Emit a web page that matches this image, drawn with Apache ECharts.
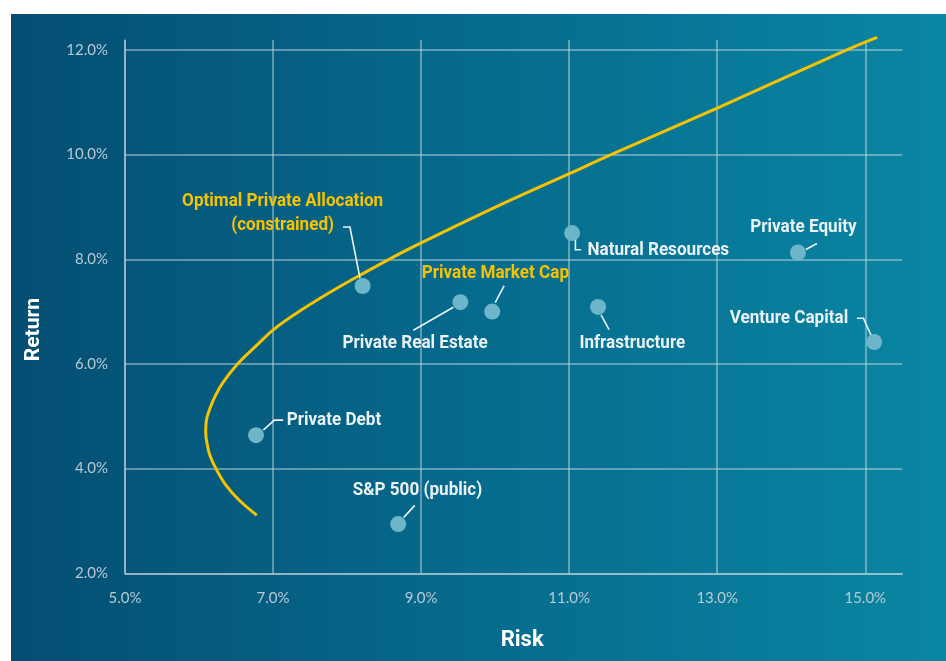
<!DOCTYPE html>
<html>
<head>
<meta charset="utf-8">
<script src="https://cdn.jsdelivr.net/npm/echarts@6/dist/echarts.min.js"></script>
<style>
  html, body { margin: 0; padding: 0; background: #ffffff; }
  #chart { width: 946px; height: 661px; }
</style>
</head>
<body>
<div id="chart"></div>
<script>
// ---- Data ----
const assetNames = [
  'Optimal Private Allocation\n(constrained)',
  'Private Market Cap',
  'Private Real Estate',
  'Natural Resources',
  'Infrastructure',
  'Private Equity',
  'Venture Capital',
  'Private Debt',
  'S&P 500 (public)'
];
const assetRisk   = [8.21, 9.96, 9.53, 11.04, 11.39, 14.09, 15.12, 6.77, 8.69];
const assetReturn = [7.49, 7.00, 7.18,  8.50,  7.09,  8.13,  6.42, 4.64, 2.94];

// Efficient frontier (risk, return), from the lower end to the upper end
const frontierRisk   = [6.78, 6.54, 6.36, 6.24, 6.15, 6.11, 6.09, 6.10, 6.15, 6.22, 6.32, 6.52, 6.76, 7.01, 7.36, 7.77, 8.18, 8.81, 9.39, 10.07, 11.01, 11.55, 13.00, 14.75, 15.16];
const frontierReturn = [3.11, 3.40, 3.69, 3.97, 4.24, 4.47, 4.70, 4.93, 5.16, 5.39, 5.64, 6.00, 6.33, 6.66, 7.01, 7.37, 7.70, 8.18, 8.58,  9.04,  9.64,  9.99, 10.89, 12.00, 12.24];

const xAxisTitle = 'Risk';
const yAxisTitle = 'Return';

// ---- Styling / annotation layout (pixel offsets from each point) ----
const WHITE = '#eaf2f5';
const YELLOW = '#f6c300';
const TEXT_SHIFT_Y = 1.5;
const annot = [
  { dx: -80,  dy: -74, align: 'center', color: YELLOW, leader: [[-19.7,-59],[-12.7,-59],[-2.7,-8]] },
  { dx: 3.2,  dy: -40, align: 'center', color: YELLOW, leader: [[12,-26],[3,-9]] },
  { dx: -45.3,dy: 39.4,align: 'center', color: WHITE,  leader: [[-47,28],[-7,5]] },
  { dx: 15.3, dy: 15.5,align: 'left',   color: WHITE,  leader: [[9,16.7],[3.3,16.7],[3.3,6.7]] },
  { dx: 34.3, dy: 34.5,align: 'center', color: WHITE,  leader: [[11,22.6],[3,8]] },
  { dx: 5.5,  dy: -26.5,align:'center', color: WHITE,  leader: [[19,-9],[8,-3]] },
  { dx: -26,  dy: -25, align: 'right',  color: WHITE,  leader: [[-17.3,-23.7],[-10.7,-23.7],[-3.3,-7]] },
  { dx: 30.7, dy: -16.5,align:'left',   color: WHITE,  leader: [[27.3,-15],[18.3,-15],[7.3,-5]] },
  { dx: 19.3, dy: -35.5,align:'center', color: WHITE,  leader: [[16.6,-18.7],[5.6,-6.7]] }
];

const LABEL_FONT = 'Roboto, "Liberation Sans", sans-serif';
const LABEL_SCALE_X = 0.9;
const TICK_FONT = 'Lato, "Open Sans", sans-serif';
const GRID_COLOR = 'rgba(205,218,225,0.62)';

const pointData = assetRisk.map((r, i) => [r, assetReturn[i], i]);
const frontierData = frontierRisk.map((r, i) => [r, frontierReturn[i]]);

const chart = echarts.init(document.getElementById('chart'), null, { renderer: 'canvas' });

const option = {
  backgroundColor: '#ffffff',
  animation: false,
  graphic: [{
    type: 'rect',
    z: -10,
    silent: true,
    shape: { x: 11, y: 14, width: 935, height: 647 },
    style: {
      fill: new echarts.graphic.LinearGradient(0, 0, 1, 0, [
        { offset: 0, color: '#044e72' },
        { offset: 0.5, color: '#066b8d' },
        { offset: 1, color: '#0a86a3' }
      ])
    }
  }],
  grid: { left: 125, right: 43.7, top: 40, bottom: 87.7, containLabel: false },
  xAxis: {
    type: 'value',
    min: 5, max: 15.5, interval: 2,
    name: xAxisTitle,
    nameLocation: 'middle',
    nameGap: 56,
    nameTextStyle: { color: '#ffffff', fontFamily: LABEL_FONT, fontWeight: 'bold', fontSize: 22, padding: [0, 0, 0, 17] },
    axisLine: { show: true, lineStyle: { color: GRID_COLOR, width: 1.5 } },
    axisTick: { show: false },
    axisLabel: {
      color: '#b9cad3', fontFamily: TICK_FONT, fontSize: 15, margin: 17,
      showMaxLabel: false,
      formatter: v => v.toFixed(1) + '%'
    },
    splitLine: { show: true, showMaxLine: false, lineStyle: { color: GRID_COLOR, width: 1.5 } }
  },
  yAxis: {
    type: 'value',
    min: 2, max: 12.19, interval: 2,
    name: yAxisTitle,
    nameLocation: 'middle',
    nameGap: 81,
    nameRotate: 90,
    nameTextStyle: { color: '#ffffff', fontFamily: LABEL_FONT, fontWeight: 'bold', fontSize: 21, padding: [0, 46, 0, 0] },
    axisLine: { show: true, lineStyle: { color: GRID_COLOR, width: 1.5 } },
    axisTick: { show: false },
    axisLabel: {
      color: '#b9cad3', fontFamily: TICK_FONT, fontSize: 15, margin: 17,
      showMaxLabel: false,
      formatter: v => v.toFixed(1) + '%'
    },
    splitLine: { show: true, showMaxLine: false, lineStyle: { color: GRID_COLOR, width: 1.5 } }
  },
  series: [
    {
      type: 'line',
      data: frontierData,
      smooth: 0.4,
      symbol: 'none',
      clip: false,
      z: 2,
      lineStyle: { color: YELLOW, width: 3 }
    },
    {
      type: 'scatter',
      data: pointData,
      symbolSize: 16,
      z: 3,
      itemStyle: { color: '#6db5c9', opacity: 1 }
    },
    {
      type: 'custom',
      data: pointData,
      z: 4,
      silent: true,
      encode: { x: 0, y: 1 },
      renderItem: function (params, api) {
        const i = api.value(2);
        const p = api.coord([api.value(0), api.value(1)]);
        const a = annot[i];
        const children = [];
        if (a.leader && a.leader.length) {
          children.push({
            type: 'polyline',
            shape: { points: a.leader.map(q => [p[0] + q[0], p[1] + q[1]]) },
            style: { stroke: WHITE, lineWidth: 1.6, fill: null }
          });
        }
        children.push({
          type: 'text',
          x: p[0] + a.dx,
          y: p[1] + a.dy + TEXT_SHIFT_Y,
          scaleX: LABEL_SCALE_X,
          style: {
            text: assetNames[i],
            fill: a.color,
            font: 'bold 19px ' + LABEL_FONT,
            align: a.align,
            verticalAlign: 'middle',
            textAlign: a.align,
            textVerticalAlign: 'middle',
            lineHeight: 24
          }
        });
        return { type: 'group', children: children };
      }
    }
  ]
};

chart.setOption(option);
</script>
</body>
</html>
